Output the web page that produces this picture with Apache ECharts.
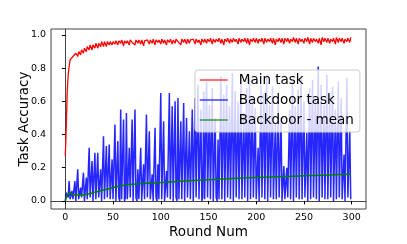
<!DOCTYPE html>
<html><head><meta charset="utf-8">
<script src="https://cdn.jsdelivr.net/npm/echarts@6/dist/echarts.min.js"></script>
<style>html,body{margin:0;padding:0;background:#fff}#c{width:407px;height:244px}</style>
</head><body><div id="c"></div>
<script>
// Main task accuracy, rounds 0..299
const mainTask = [
0.27,0.45,0.66, 0.76,0.81,0.85, 0.86,0.85,0.87, 0.88,0.86,0.89, 0.89,0.87,0.90,
0.90,0.88,0.91, 0.92,0.89,0.92, 0.93,0.90,0.93, 0.93,0.91,0.94, 0.94,0.91,0.94,
0.95,0.92,0.95, 0.95,0.92,0.95, 0.95,0.93,0.96, 0.96,0.93,0.96, 0.96,0.93,0.96,
0.96,0.94,0.96, 0.96,0.94,0.96, 0.965,0.945,0.965, 0.96,0.94,0.965, 0.965,0.95,0.97,
0.965,0.935,0.965, 0.97,0.95,0.965, 0.965,0.94,0.97, 0.97,0.955,0.965, 0.965,0.94,0.97,
0.97,0.95,0.97, 0.965,0.945,0.97, 0.97,0.935,0.965, 0.97,0.955,0.97, 0.965,0.945,0.97,
0.97,0.95,0.975, 0.97,0.94,0.97, 0.975,0.955,0.97, 0.97,0.945,0.975, 0.97,0.95,0.97,
0.975,0.94,0.97, 0.97,0.955,0.975, 0.975,0.945,0.97, 0.97,0.95,0.975, 0.975,0.96,0.97,
0.97,0.94,0.975, 0.975,0.955,0.975, 0.97,0.945,0.975, 0.975,0.95,0.97, 0.975,0.96,0.975,
0.97,0.945,0.975, 0.975,0.955,0.97, 0.975,0.94,0.975, 0.97,0.955,0.975, 0.975,0.95,0.975,
0.975,0.96,0.98, 0.975,0.945,0.975, 0.98,0.955,0.975, 0.975,0.96,0.98, 0.975,0.95,0.975,
0.98,0.94,0.975, 0.975,0.96,0.98, 0.98,0.95,0.975, 0.975,0.955,0.98, 0.98,0.96,0.975,
0.975,0.945,0.98, 0.98,0.955,0.975, 0.975,0.96,0.98, 0.98,0.95,0.98, 0.975,0.94,0.975,
0.98,0.96,0.98, 0.975,0.955,0.98, 0.98,0.95,0.975, 0.98,0.96,0.98, 0.975,0.945,0.98,
0.98,0.955,0.975, 0.98,0.96,0.98, 0.975,0.95,0.98, 0.98,0.94,0.975, 0.98,0.96,0.98,
0.975,0.955,0.98, 0.98,0.945,0.98, 0.975,0.96,0.98, 0.98,0.95,0.975, 0.98,0.96,0.985,
0.975,0.955,0.98, 0.98,0.945,0.98, 0.985,0.96,0.975, 0.98,0.95,0.98, 0.98,0.96,0.985,
0.975,0.945,0.98, 0.98,0.955,0.98, 0.985,0.96,0.975, 0.98,0.95,0.98, 0.98,0.94,0.985,
0.975,0.96,0.98, 0.98,0.955,0.98, 0.985,0.95,0.975, 0.98,0.96,0.98, 0.98,0.945,0.985,
0.975,0.955,0.98, 0.98,0.96,0.98, 0.985,0.95,0.975, 0.98,0.96,0.98, 0.98,0.955,0.985
];
// Backdoor task accuracy, rounds 0..299
const backdoorTask = [
0.00,0.05,0.04, 0.02,0.12,0.01, 0.00,0.06,0.01, 0.02,0.12,0.00, 0.01,0.19,0.01,
0.00,0.08,0.02, 0.01,0.17,0.00, 0.01,0.14,0.01, 0.00,0.32,0.02, 0.01,0.24,0.00,
0.01,0.29,0.01, 0.00,0.29,0.02, 0.01,0.19,0.00, 0.01,0.39,0.01, 0.00,0.33,0.02,
0.01,0.34,0.01, 0.00,0.25,0.01, 0.02,0.46,0.00, 0.01,0.36,0.02, 0.00,0.55,0.01,
0.01,0.49,0.00, 0.02,0.53,0.01, 0.00,0.32,0.02, 0.01,0.49,0.00, 0.01,0.55,0.02,
0.00,0.19,0.01, 0.02,0.32,0.00, 0.01,0.22,0.01, 0.00,0.52,0.02, 0.01,0.42,0.01,
0.02,0.16,0.00, 0.01,0.44,0.02, 0.00,0.22,0.01, 0.02,0.65,0.01, 0.01,0.48,0.00,
0.00,0.18,0.02, 0.01,0.65,0.01, 0.02,0.57,0.00, 0.01,0.60,0.02, 0.00,0.62,0.01,
0.02,0.48,0.01, 0.01,0.59,0.00, 0.00,0.50,0.02, 0.02,0.42,0.01, 0.01,0.55,0.00,
0.00,0.62,0.02, 0.02,0.70,0.01, 0.01,0.55,0.00, 0.02,0.66,0.01, 0.00,0.72,0.02,
0.01,0.58,0.01, 0.02,0.68,0.00, 0.01,0.50,0.02, 0.00,0.37,0.01, 0.02,0.75,0.01,
0.01,0.64,0.00, 0.00,0.70,0.02, 0.02,0.57,0.01, 0.01,0.77,0.00, 0.00,0.66,0.02,
0.02,0.60,0.01, 0.01,0.72,0.01, 0.00,0.53,0.02, 0.02,0.68,0.00, 0.01,0.74,0.01,
0.00,0.62,0.02, 0.02,0.56,0.01, 0.01,0.32,0.00, 0.00,0.70,0.02, 0.02,0.65,0.01,
0.01,0.76,0.00, 0.00,0.58,0.02, 0.02,0.69,0.01, 0.01,0.47,0.01, 0.00,0.63,0.02,
0.02,0.50,0.00, 0.01,0.21,0.01, 0.00,0.20,0.02, 0.02,0.55,0.01, 0.01,0.72,0.00,
0.00,0.57,0.02, 0.02,0.67,0.01, 0.01,0.74,0.01, 0.00,0.60,0.02, 0.02,0.41,0.00,
0.01,0.68,0.01, 0.00,0.73,0.02, 0.02,0.62,0.01, 0.01,0.81,0.00, 0.00,0.70,0.02,
0.02,0.58,0.01, 0.01,0.76,0.01, 0.00,0.64,0.02, 0.02,0.69,0.00, 0.01,0.55,0.01,
0.00,0.72,0.02, 0.02,0.62,0.01, 0.01,0.28,0.00, 0.00,0.74,0.02, 0.02,0.42,0.01
];
// Backdoor mean, read at selected rounds
const meanRounds = [0,1,2,3,4,5,6,7,8,10,12,15,18,20,25,30,35,40,45,50,55,60,65,70,75,80,90,100,110,120,130,140,150,160,170,180,190,200,210,220,230,240,250,260,270,280,290,299];
const meanValues = [0,0.02,0.035,0.03,0.045,0.05,0.045,0.038,0.036,0.037,0.036,0.037,0.036,0.038,0.043,0.05,0.058,0.065,0.072,0.08,0.087,0.092,0.097,0.1,0.102,0.105,0.107,0.11,0.114,0.118,0.121,0.124,0.127,0.13,0.133,0.136,0.139,0.141,0.143,0.145,0.147,0.149,0.151,0.153,0.155,0.157,0.159,0.16];
const xTicks = [0,50,100,150,200,250,300];
const yTicks = [0.0,0.2,0.4,0.6,0.8,1.0];
const seriesNames = ['Main task','Backdoor task','Backdoor - mean'];

const pairs = (vals) => vals.map((v,i)=>[i,v]);
const meanPairs = meanRounds.map((r,i)=>[r, meanValues[i]]);

const FONT = 'DejaVu Sans';
const chart = echarts.init(document.getElementById('c'), null, {renderer:'canvas'});
chart.setOption({
  animation:false,
  backgroundColor:'#fff',
  textStyle:{fontFamily:FONT},
  grid:{left:51,right:41,top:29,bottom:31,show:true,borderColor:'#444',borderWidth:1,backgroundColor:'transparent'},
  xAxis:{
    type:'value',min:-15,max:315,
    name:'Round Num',nameLocation:'middle',nameGap:16,nameMoveOverlap:false,
    nameTextStyle:{fontSize:13.5,color:'#000',fontFamily:FONT},
    axisLine:{show:true,lineStyle:{color:'#444',width:1}},
    axisTick:{show:true,length:3.5,customValues:xTicks,lineStyle:{color:'#000'}},
    axisLabel:{customValues:xTicks,fontSize:9.5,color:'#000',margin:4,fontFamily:FONT},
    splitLine:{show:false}
  },
  yAxis:{
    type:'value',min:-0.049,max:1.036,
    name:'Task Accuracy',nameLocation:'middle',nameGap:20,nameMoveOverlap:false,
    nameTextStyle:{fontSize:13.5,color:'#000',fontFamily:FONT},
    axisLine:{show:true,lineStyle:{color:'#444',width:1}},
    axisTick:{show:true,length:3.5,customValues:yTicks,lineStyle:{color:'#000'}},
    axisLabel:{customValues:yTicks,fontSize:9.5,color:'#000',margin:5,fontFamily:FONT,formatter:(v)=>v.toFixed(1)},
    splitLine:{show:false}
  },
  legend:{
    orient:'vertical',left:195,top:70,
    data:seriesNames,
    itemWidth:28,itemHeight:14,itemGap:6,
    padding:[3,6,5,4],
    backgroundColor:'rgba(255,255,255,0.8)',
    borderColor:'#cccccc',borderWidth:1,borderRadius:3,
    itemStyle:{opacity:0},
    lineStyle:{width:1.5,opacity:0.75},
    textStyle:{fontSize:13.5,color:'#000',fontFamily:FONT,lineHeight:14,padding:[0,0,0,6]}
  },
  series:[
    {name:seriesNames[0],type:'line',symbol:'none',showSymbol:false,data:pairs(mainTask),
     lineStyle:{color:'#ff0000',width:1.3},itemStyle:{color:'#ff0000'}},
    {name:seriesNames[1],type:'line',symbol:'none',showSymbol:false,data:pairs(backdoorTask),
     lineStyle:{color:'#0000ff',width:1.5,opacity:0.85},itemStyle:{color:'#0000ff'}},
    {name:seriesNames[2],type:'line',symbol:'none',showSymbol:false,data:meanPairs,
     lineStyle:{color:'#008000',width:1.5},itemStyle:{color:'#008000'}}
  ]
});
</script></body></html>
